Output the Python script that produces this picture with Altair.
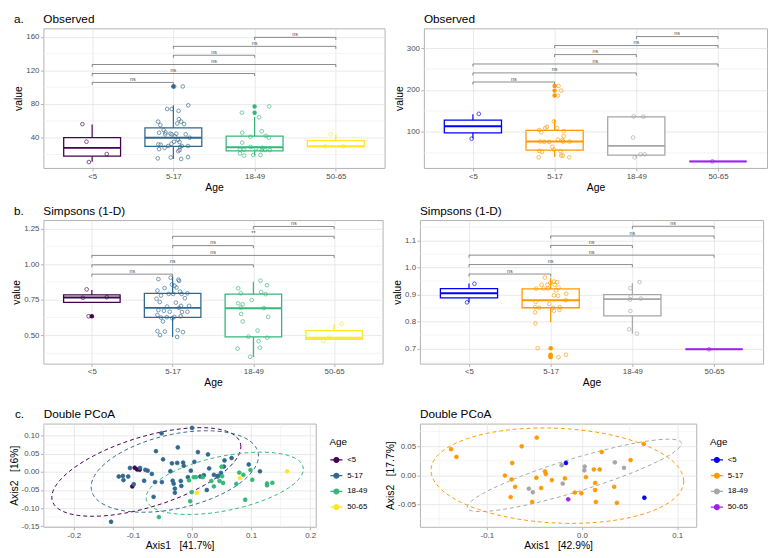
import json
import altair as alt
import pandas as pd

AGE = ["<5", "5-17", "18-49", "50-65"]
VIRIDIS = ["#440154", "#31688E", "#35B779", "#FDE725"]
BRIGHT = ["#0000FF", "#FF9900", "#A6A6A6", "#A020F0"]
PAIRS = [(1, 2), (1, 3), (1, 4), (2, 3), (2, 4), (3, 4)]

# ---------------- a. Observed (left) ----------------
OBS_L_VALUES = [
    [56.1, 35.2, 20.6, 11.0],
    [100.9, 100.9, 78.5, 74.1, 74.1, 71.9, 62.0, 59.1, 56.1, 56.9, 59.1, 55.0, 49.2, 46.2, 45.9, 44.8, 44.0, 44.0, 44.8, 44.0,
     40.0, 41.5, 37.4, 34.9, 35.2, 32.7, 30.1, 30.1, 31.9, 31.6, 30.1, 27.9, 26.4, 29.0, 25.3, 23.9, 15.4, 16.5, 14.7, 16.9],
    [77.1, 69.7, 64.2, 45.9, 47.7, 34.1, 41.1, 42.2, 40.0, 29.0, 27.9, 25.7, 25.7, 27.5, 25.3, 25.3, 25.3, 21.3, 18.7, 19.4, 19.4],
    [44.0, 29.7, 29.7],
]
OBS_L_JITTER = [
    [-0.12, -0.07, 0.18, -0.04],
    [0.116, 0.01, 0.184, -0.076, -0.02, 0.064, 0.068, 0.096, 0.132, 0.048, -0.188, -0.16, -0.12, -0.096, -0.176, -0.036, -0.02, -0.1, 0.036, 0.152,
     0.2, 0.02, 0.056, 0.076, 0.008, -0.024, 0.104, 0.18, -0.184, -0.156, -0.064, -0.108, -0.176, 0.084, 0.076, 0.06, -0.192, -0.032, 0.096, 0.18],
    [0.18, -0.156, 0.056, -0.152, 0.088, -0.152, -0.052, 0.136, 0.176, -0.048, 0.096, -0.18, -0.132, 0.016, 0.088, 0.132, 0.188, -0.18, -0.128, -0.016, 0.072],
    [-0.064, -0.128, 0.092],
]
OBS_L_OUTLIERS = [[], [100.9], [77.1, 69.7], []]
OBS_L_BOX = [(11.4, 18.0, 27.9, 40.0, 55.8), (14.7, 29.7, 40.0, 51.7, 78.5),
             (18.7, 24.2, 28.6, 41.8, 64.6), (29.3, 29.3, 29.7, 36.5, 44.0)]
OBS_L_BRACKET_Y = [105.7, 116.3, 127.0, 138.0, 148.6, 159.3]
OBS_L_BRACKET_LAB = ["ns", "ns", "ns", "ns", "ns", "ns"]

# ---------------- a. Observed (right) ----------------
OBS_R_VALUES = [
    [143.0, 83.7],
    [209.6, 198.5, 186.7, 125.2, 111.9, 108.9, 108.9, 104.4, 99.3, 101.5, 77.0, 76.3, 76.3, 81.5, 89.6, 77.0, 77.0, 80.7, 64.4, 57.8,
     54.8, 52.6, 54.1, 43.7, 43.7, 39.3, 39.3],
    [137.0, 136.3, 86.7, 46.7, 46.7, 39.3],
    [29.6],
]
OBS_R_JITTER = [
    [0.072, -0.016],
    [0.048, 0.08, 0.04, -0.008, -0.095, -0.115, 0.028, -0.187, -0.163, 0.111, -0.175, -0.127, -0.068, 0.04, 0.111, 0.103, 0.183, 0.095, -0.028, -0.008,
     -0.187, -0.155, 0.072, 0.08, 0.1, -0.195, 0.179],
    [-0.032, 0.087, -0.04, 0.052, 0.103, -0.02],
    [-0.068],
]
OBS_R_OUTLIERS = [[], [209.6, 198.5, 186.7], [], []]
OBS_R_BOX = [(84.4, 97.8, 113.3, 128.0, 142.0), (40.0, 56.3, 77.0, 103.7, 128.9),
             (39.3, 44.4, 66.7, 135.6, 137.0), (29.6, 29.6, 29.6, 29.6, 29.6)]
OBS_R_BRACKET_Y = [219.0, 240.7, 262.0, 284.4, 306.0, 327.4]
OBS_R_BRACKET_LAB = ["ns", "ns", "ns", "ns", "ns", "ns"]

# ---------------- b. Simpsons (left) ----------------
SIM_L_VALUES = [
    [0.823, 0.764, 0.768, 0.634],
    [0.895, 0.905, 0.891, 0.882, 0.857, 0.848, 0.836, 0.832, 0.807, 0.814, 0.791, 0.791, 0.791, 0.795, 0.780, 0.761, 0.757, 0.734, 0.730, 0.702,
     0.707, 0.707, 0.693, 0.677, 0.673, 0.666, 0.664, 0.666, 0.634, 0.627, 0.625, 0.620, 0.630, 0.598, 0.530, 0.527, 0.536, 0.523, 0.502, 0.489, 0.643],
    [0.884, 0.852, 0.830, 0.795, 0.805, 0.789, 0.748, 0.725, 0.718, 0.695, 0.691, 0.650, 0.630, 0.598, 0.534, 0.491, 0.484, 0.459, 0.414, 0.407, 0.350],
    [0.582, 0.484, 0.461],
]
SIM_L_JITTER = [
    [-0.064, -0.112, 0.184, -0.04],
    [-0.176, -0.024, 0.072, 0.08, -0.008, 0.024, 0.048, -0.1, 0.092, -0.188, -0.048, 0.008, 0.112, 0.184, -0.144, 0.152, -0.2, -0.16, 0.04, -0.068,
     0.104, 0.204, 0.08, -0.176, -0.108, -0.036, 0.116, 0.184, 0.1, -0.072, -0.144, -0.004, 0.02, -0.12, -0.188, -0.096, 0.064, 0.128, -0.156, 0.056, -0.188],
    [0.088, 0.168, -0.188, -0.156, 0.096, 0.152, -0.02, -0.188, -0.132, -0.156, 0.128, -0.152, 0.184, -0.132, 0.052, -0.06, 0.172, 0.064, 0.08, -0.196, -0.04],
    [0.092, -0.068, -0.132],
]
SIM_L_OUTLIERS = [[0.634], [], [], []]
SIM_L_BOX = [(0.732, 0.732, 0.766, 0.784, 0.818), (0.489, 0.627, 0.693, 0.795, 0.911),
             (0.348, 0.489, 0.691, 0.789, 0.877), (0.473, 0.473, 0.484, 0.534, 0.580)]
SIM_L_BRACKET_Y = [0.9295, 0.995, 1.061, 1.13, 1.195, 1.264]
SIM_L_BRACKET_LAB = ["ns", "ns", "ns", "ns", "**", "ns"]

# ---------------- b. Simpsons (right) ----------------
SIM_R_VALUES = [
    [0.940, 0.871],
    [0.963, 0.944, 0.948, 0.946, 0.936, 0.936, 0.936, 0.922, 0.922, 0.922, 0.926, 0.915, 0.903, 0.897, 0.895, 0.879, 0.873, 0.865, 0.853, 0.851,
     0.851, 0.853, 0.840, 0.843, 0.834, 0.793, 0.701, 0.673, 0.668, 0.677],
    [0.946, 0.924, 0.893, 0.881, 0.885, 0.839, 0.771, 0.755],
    [0.697],
]
SIM_R_JITTER = [
    [0.067, -0.024],
    [-0.071, -0.004, 0.04, 0.079, -0.111, -0.04, 0.048, -0.179, -0.087, -0.032, 0.095, 0.067, 0.19, 0.04, 0.091, 0.183, -0.183, -0.016, -0.19, -0.139,
     0.028, 0.111, 0.04, 0.107, -0.19, -0.187, -0.159, -0.008, 0.095, 0.187],
    [0.087, -0.024, -0.02, -0.028, 0.103, -0.024, -0.04, 0.056],
    [-0.06],
]
SIM_R_OUTLIERS = [[], [0.701, 0.677, 0.673, 0.668], [], []]
SIM_R_BOX = [(0.871, 0.888, 0.905, 0.922, 0.941), (0.797, 0.851, 0.879, 0.921, 0.962),
             (0.755, 0.821, 0.883, 0.900, 0.942), (0.697, 0.697, 0.697, 0.697, 0.697)]
SIM_R_BRACKET_Y = [0.976, 1.011, 1.046, 1.082, 1.117, 1.153]
SIM_R_BRACKET_LAB = ["ns", "ns", "ns", "ns", "ns", "ns"]

# ---------------- c. Double PCoA (left) ----------------
PC_L_X = [
    [-0.097, -0.0886, -0.101, -0.093],
    [0.000, -0.0515, -0.061, -0.024, 0.010, 0.027, -0.049, -0.034, -0.025, -0.015, 0.004, 0.067, 0.055, -0.105, -0.079, -0.014, -0.002,
     -0.0366, -0.007, 0.014, 0.029, 0.037, -0.068, -0.075, -0.117, -0.108, -0.116, -0.081, -0.0626, -0.051, -0.0327, -0.019, -0.031,
     -0.018, -0.029, -0.029, -0.065, -0.0986, 0.025, 0.043, 0.049, 0.054, 0.096, 0.115, -0.137, -0.088, -0.124, 0.044, 0.020],
    [0.050, 0.080, 0.087, 0.099, 0.102, 0.051, 0.0465, 0.0526, 0.0327, 0.037, 0.018, 0.003, -0.005, -0.0006, -0.003, -0.056, 0.075,
     0.090, 0.127, 0.127, 0.136, 0.0066],
    [0.161, 0.081, 0.008],
]
PC_L_Y = [
    [0.0117, 0.0063, -0.040, 0.007],
    [0.122, 0.107, 0.0576, 0.068, 0.055, 0.0486, 0.035, 0.024, 0.025, 0.026, 0.028, 0.0387, 0.032, 0.011, 0.006, 0.017, 0.0036,
     0.002, -0.0144, -0.0126, 0.0099, -0.008, -0.0054, 0.0036, -0.011, -0.0126, -0.0225, -0.0243, -0.028, -0.028, -0.0243, -0.025, -0.0324,
     -0.0387, -0.046, -0.0576, -0.069, -0.034, -0.050, -0.0126, -0.0027, 0.015, 0.0207, 0.0018, -0.138, 0.011, -0.0126, -0.011, -0.009],
    [0.0144, -0.0018, -0.008, 0.0054, -0.0216, -0.0117, -0.025, -0.0306, -0.025, -0.040, -0.0144, -0.0144, -0.023, -0.0558, -0.081, -0.125, -0.033,
     -0.077, -0.032, -0.037, -0.030, -0.0144],
    [0.0018, -0.017, -0.058],
]
ELL_L_GROUP = ["<5", "5-17", "18-49"]
ELL_L_CX = [-0.0773, -0.0291, 0.0554]
ELL_L_CY = [0.0, 0.0013, -0.0315]
ELL_L_A = [0.160, 0.1416, 0.133]
ELL_L_B = [0.1228, 0.1129, 0.0863]
ELL_L_PHI = [0.964, 1.183, 1.095]

# ---------------- c. Double PCoA (right) ----------------
PC_R_X = [
    [-0.0169, 0.0655],
    [-0.1376, -0.132, -0.0634, -0.0476, -0.0734, -0.081, -0.074, -0.0703, -0.075, -0.048, -0.039, -0.038, -0.043, -0.0317, -0.018,
     -0.0524, -0.0076, -0.0007, 0.0041, 0.0124, 0.0186, 0.0207, 0.0138, 0.0138, 0.0145, 0.0338, 0.0366, 0.051, 0.0648],
    [-0.0214, 0.0028, 0.0024, -0.0203, -0.0559, -0.0517, 0.0345, 0.0441],
    [-0.0145],
]
PC_R_Y = [
    [0.021, -0.0387],
    [0.0448, 0.0315, 0.0497, 0.0646, 0.021, -0.0006, -0.0072, -0.0199, -0.0376, -0.0044, 0.0066, 0.0022, -0.022, -0.0083, -0.0055,
     -0.0459, -0.0298, -0.031, -0.0033, 0.0099, 0.0099, 0.0398, -0.0133, -0.0254, -0.0459, -0.0199, -0.0475, 0.026, 0.0536],
    [0.0171, 0.0149, 0.0083, -0.0144, -0.0232, -0.0293, 0.0221, 0.0127],
    [-0.0414],
]
ELL_R_GROUP = ["5-17", "18-49"]
ELL_R_CX = [-0.0259, -0.0081]
ELL_R_CY = [-0.0008, -0.0003]
ELL_R_A = [0.1328, 0.1126]
ELL_R_B = [0.0820, 0.0622]
ELL_R_PHI = [1.682, 0.496]

NB = "\u00a0"
GRID = "#e3e3e3"
MINOR = "#eeeeee"
LEG_SYMBOL = "M-1,0L1,0M-0.4,0A0.4,0.4,0,1,1,0.4,0A0.4,0.4,0,1,1,-0.4,0Z"
LABEL_EXPR = json.dumps(AGE) + "[datum.value - 1]"


def panel_title(text, dx):
    return alt.TitleParams(text=text, anchor="start", frame="group", dx=dx, fontSize=12,
                           fontWeight="normal", color="black", offset=2)


def minus_fix(fmt):
    return "replace(format(datum.value, '" + fmt + "'), '\u2212', '-')"


def box_panel(title, dx, values, jitters, outliers, box, br_y, br_lab, ydom, ymajor, yminor, yfmt,
              palette, width, height):
    pts = pd.DataFrame([{"Age": AGE[g], "idx": g + 1, "jit": j, "value": v}
                        for g in range(4) for v, j in zip(values[g], jitters[g])])
    out = pd.DataFrame([{"Age": AGE[g], "idx": g + 1, "value": v}
                        for g in range(4) for v in outliers[g]])
    bx = pd.DataFrame([{"Age": AGE[g], "idx": g + 1, "wlo": b[0], "q1": b[1], "med": b[2],
                        "q3": b[3], "whi": b[4]} for g, b in enumerate(box)])
    br = pd.DataFrame([{"g1": p[0], "g2": p[1], "y": y, "lab": l}
                       for p, y, l in zip(PAIRS, br_y, br_lab)])
    mg = pd.DataFrame({"m": yminor})
    tip = (ydom[1] - ydom[0]) * 0.018

    xs = alt.Scale(domain=[0.4, 4.6], nice=False, zero=False)
    ys = alt.Scale(domain=ydom, nice=False, zero=False)
    xax = alt.Axis(values=[1, 2, 3, 4], labelExpr=LABEL_EXPR, title="Age", grid=True, labelFlush=False)
    yax = alt.Axis(values=ymajor, format=yfmt, title="value", grid=True)
    cs = alt.Scale(domain=AGE, range=palette)

    def X(f):
        return alt.X(f, scale=xs, axis=xax)

    def Y(f):
        return alt.Y(f, scale=ys, axis=yax)

    stroke = alt.Stroke("Age:N", scale=cs, legend=None)
    color = alt.Color("Age:N", scale=cs, legend=None)

    minor = alt.Chart(mg).mark_rule(color=MINOR, strokeWidth=0.6).encode(y=Y("m:Q"))
    whisk = alt.Chart(bx).mark_rule(strokeWidth=1.2).encode(x=X("idx:Q"), y=Y("wlo:Q"), y2="whi:Q", stroke=stroke)
    boxes = alt.Chart(bx).transform_calculate(x0="datum.idx - 0.35", x1="datum.idx + 0.35").mark_bar(
        fill="white", strokeWidth=1.3).encode(x=X("x0:Q"), x2="x1:Q", y=Y("q1:Q"), y2="q3:Q", stroke=stroke)
    med = alt.Chart(bx).transform_calculate(x0="datum.idx - 0.35", x1="datum.idx + 0.35").mark_rule(
        strokeWidth=2).encode(x=X("x0:Q"), x2="x1:Q", y=Y("med:Q"), stroke=stroke)
    brh = alt.Chart(br).mark_rule(color="#595959", strokeWidth=0.7).encode(x=X("g1:Q"), x2="g2:Q", y=Y("y:Q"))
    brt = alt.Chart(br).transform_fold(["g1", "g2"], as_=["end", "gx"]).transform_calculate(
        yt="datum.y - " + str(tip)).mark_rule(color="#595959", strokeWidth=0.7).encode(
        x=X("gx:Q"), y=Y("y:Q"), y2="yt:Q")
    brl = alt.Chart(br).transform_calculate(mid="(datum.g1 + datum.g2) / 2").mark_text(
        fontSize=5.5, dy=-1.5, baseline="alphabetic", color="#4d4d4d").encode(
        x=X("mid:Q"), y=Y("y:Q"), text="lab:N")
    pt = alt.Chart(pts).transform_calculate(xp="datum.idx + datum.jit").mark_point(
        shape="circle", filled=False, size=14, strokeWidth=0.9, opacity=0.75).encode(
        x=X("xp:Q"), y=Y("value:Q"), color=color)
    layers = [minor, whisk, boxes, med, brh, brt, brl, pt]
    if len(out):
        layers.append(alt.Chart(out).mark_circle(size=20, opacity=1).encode(
            x=X("idx:Q"), y=Y("value:Q"), color=color))
    return alt.layer(*layers).properties(width=width, height=height, title=panel_title(title, dx))


def pcoa_panel(title, dx, xs_l, ys_l, egroup, ecx, ecy, ea, eb, ephi, xdom, ydom, xmajor, ymajor,
               xminor, yminor, palette, xtitle, ytitle, width, height):
    pts = pd.DataFrame([{"Age": AGE[g], "a1": x, "a2": y}
                        for g in range(4) for x, y in zip(xs_l[g], ys_l[g])])
    ell = pd.DataFrame({"Group": egroup, "cx": ecx, "cy": ecy, "A": ea, "B": eb, "phi": ephi})
    mx = pd.DataFrame({"m": xminor})
    my = pd.DataFrame({"m": yminor})
    xsc = alt.Scale(domain=xdom, nice=False, zero=False)
    ysc = alt.Scale(domain=ydom, nice=False, zero=False)
    xax = alt.Axis(values=xmajor, labelExpr=minus_fix(".1f"), title=xtitle, grid=True, labelFlush=False)
    yax = alt.Axis(values=ymajor, labelExpr=minus_fix(".2f"), title=ytitle, grid=True)
    cs = alt.Scale(domain=AGE, range=palette)
    ecs = alt.Scale(domain=egroup, range=[palette[AGE.index(g)] for g in egroup])
    leg = alt.Legend(title="Age", orient="none", legendX=width + 14, legendY=14,
                     symbolType=LEG_SYMBOL, symbolSize=150, symbolStrokeWidth=1.3)

    def X(f):
        return alt.X(f, scale=xsc, axis=xax)

    def Y(f):
        return alt.Y(f, scale=ysc, axis=yax)

    vmin = alt.Chart(mx).mark_rule(color=MINOR, strokeWidth=0.6).encode(x=X("m:Q"))
    hmin = alt.Chart(my).mark_rule(color=MINOR, strokeWidth=0.6).encode(y=Y("m:Q"))
    el = alt.Chart(ell).transform_calculate(t="sequence(0, 361, 4)").transform_flatten(["t"]).transform_calculate(
        ex="datum.cx + datum.A * cos(datum.t * PI / 180)",
        ey="datum.cy + datum.B * cos(datum.t * PI / 180 - datum.phi)",
    ).mark_line(strokeDash=[4, 3], strokeWidth=1).encode(
        x=X("ex:Q"), y=Y("ey:Q"), order="t:Q", detail="Group:N",
        stroke=alt.Stroke("Group:N", scale=ecs, legend=None))
    pt = alt.Chart(pts).mark_point(shape="circle", filled=False, size=15, strokeWidth=0.8, opacity=1).encode(
        x=X("a1:Q"), y=Y("a2:Q"),
        color=alt.Color("Age:N", scale=cs, legend=leg),
        fill=alt.Fill("Age:N", scale=cs, legend=leg))
    return alt.layer(vmin, hmin, el, pt).properties(width=width, height=height, title=panel_title(title, dx))


RES = dict(color="independent", fill="independent", stroke="independent")

a_left = box_panel("a." + NB * 6 + "Observed", -30, OBS_L_VALUES, OBS_L_JITTER, OBS_L_OUTLIERS, OBS_L_BOX,
                   OBS_L_BRACKET_Y, OBS_L_BRACKET_LAB, [4, 170], [40, 80, 120, 160], [20, 60, 100, 140], "d",
                   VIRIDIS, 347, 142)
a_right = box_panel("Observed", 0, OBS_R_VALUES, OBS_R_JITTER, OBS_R_OUTLIERS, OBS_R_BOX,
                    OBS_R_BRACKET_Y, OBS_R_BRACKET_LAB, [14, 347], [100, 200, 300], [50, 150, 250], "d",
                    BRIGHT, 349, 142)
b_left = box_panel("b." + NB * 6 + "Simpsons (1-D)", -30, SIM_L_VALUES, SIM_L_JITTER, SIM_L_OUTLIERS, SIM_L_BOX,
                   SIM_L_BRACKET_Y, SIM_L_BRACKET_LAB, [0.302, 1.309], [0.5, 0.75, 1.0, 1.25],
                   [0.375, 0.625, 0.875, 1.125], ".2f", VIRIDIS, 345, 146)
b_right = box_panel("Simpsons (1-D)", 0, SIM_R_VALUES, SIM_R_JITTER, SIM_R_OUTLIERS, SIM_R_BOX,
                    SIM_R_BRACKET_Y, SIM_R_BRACKET_LAB, [0.644, 1.176], [0.7, 0.8, 0.9, 1.0, 1.1],
                    [0.65, 0.75, 0.85, 0.95, 1.05, 1.15], ".1f", BRIGHT, 349, 146)
c_left = pcoa_panel("c." + NB * 6 + "Double PCoA", -29, PC_L_X, PC_L_Y, ELL_L_GROUP, ELL_L_CX, ELL_L_CY,
                    ELL_L_A, ELL_L_B, ELL_L_PHI, [-0.2515, 0.2094], [-0.152, 0.134],
                    [-0.2, -0.1, 0.0, 0.1, 0.2], [-0.15, -0.10, -0.05, 0.0, 0.05, 0.10],
                    [-0.25, -0.15, -0.05, 0.05, 0.15], [-0.125, -0.075, -0.025, 0.025, 0.075, 0.125],
                    VIRIDIS, "Axis1" + NB * 3 + "[41.7%]", "Axis2" + NB * 3 + "[16%]", 277, 105)
c_right = pcoa_panel("Double PCoA", 0, PC_R_X, PC_R_Y, ELL_R_GROUP, ELL_R_CX, ELL_R_CY,
                     ELL_R_A, ELL_R_B, ELL_R_PHI, [-0.1703, 0.12], [-0.0887, 0.0887],
                     [-0.1, 0.0, 0.1], [-0.05, 0.0, 0.05], [-0.15, -0.05, 0.05], [-0.075, -0.025, 0.025, 0.075],
                     BRIGHT, "Axis1" + NB * 3 + "[42.9%]", "Axis2" + NB * 3 + "[17.7%]", 281, 105)

row_a = alt.hconcat(a_left, a_right, spacing=8).resolve_scale(**RES)
row_b = alt.hconcat(b_left, b_right, spacing=8).resolve_scale(**RES)
row_c = alt.hconcat(c_left, c_right, spacing=16).resolve_scale(**RES)
top = alt.vconcat(row_a, row_b, spacing=11).resolve_scale(**RES)

chart = alt.vconcat(top, row_c, spacing=19).resolve_scale(**RES).properties(
    padding={"left": 0, "top": 0, "right": 0, "bottom": 0}
).configure(font="Liberation Sans").configure_view(
    stroke="#b3b3b3", strokeWidth=1
).configure_axis(
    gridColor=GRID, gridWidth=0.8, tickColor="#b3b3b3", tickSize=3, domain=False,
    labelColor="#4d4d4d", labelFontSize=8, labelFont="Liberation Sans", labelPadding=1.5,
    titleFontSize=10.5, titleFontWeight="normal", titleColor="black", titleFont="Liberation Sans",
    titlePadding=2,
).configure_legend(
    titleFontSize=10, titleFontWeight="normal", titleColor="black", labelFontSize=8,
    labelColor="black", rowPadding=3, titlePadding=6, labelOffset=4,
).configure_title(font="Liberation Sans", fontWeight="normal")

chart.save("out.html", embed_options={"renderer": "svg", "actions": False})
